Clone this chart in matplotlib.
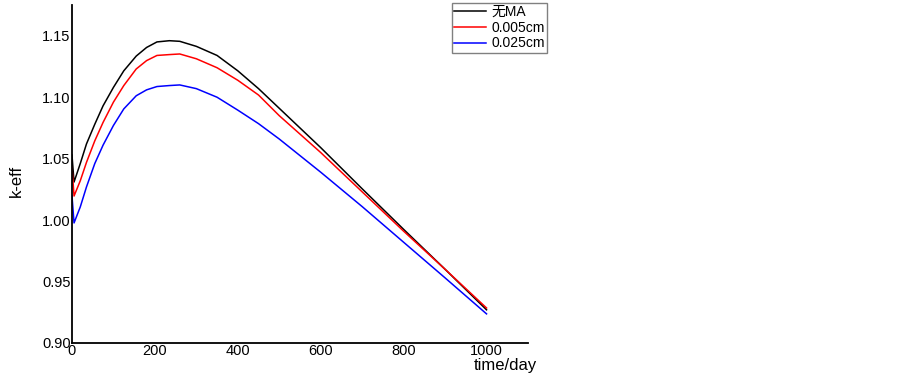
import matplotlib
matplotlib.use("Agg")
import matplotlib.pyplot as plt

plt.rcParams['font.family'] = ['Liberation Sans', 'Noto Sans CJK SC']

# burnup time (day)
days = [0, 5, 20, 35, 55, 75, 100, 125, 155, 180, 205, 235, 260, 300, 350, 400, 450, 500,
        600, 700, 800, 900, 1000]

# k-eff, no MA
k_noma = [1.053, 1.031, 1.046, 1.062, 1.078, 1.093, 1.108, 1.1215, 1.1335, 1.1405, 1.145,
          1.146, 1.1455, 1.1414, 1.134, 1.1215, 1.107, 1.091, 1.059, 1.0255, 0.9925, 0.960,
          0.927]
# k-eff, MA layer 0.005 cm
k_005 = [1.043, 1.0196, 1.032, 1.047, 1.0645, 1.0795, 1.096, 1.1095, 1.123, 1.1298, 1.134,
         1.1347, 1.1352, 1.1313, 1.124, 1.1138, 1.1018, 1.085, 1.055, 1.023, 0.991, 0.960,
         0.9285]
# k-eff, MA layer 0.025 cm
k_025 = [1.020, 0.9977, 1.0107, 1.027, 1.046, 1.061, 1.077, 1.0905, 1.1012, 1.106, 1.1087,
         1.1095, 1.110, 1.107, 1.100, 1.0895, 1.0785, 1.066, 1.039, 1.011, 0.982, 0.953,
         0.9237]

labels = ['无MA', '0.005cm', '0.025cm']
colors = ['black', 'red', 'blue']

fig = plt.figure(figsize=(9.03, 3.78), dpi=100)
ax = fig.add_axes([0.0797, 0.0926, 0.505, 0.894])

for ys, lab, c in zip([k_noma, k_005, k_025], labels, colors):
    ax.plot(days, ys, color=c, lw=1.1, label=lab)

ax.set_xlim(0, 1100)
ax.set_ylim(0.90, 1.175)
ax.set_xticks([0, 200, 400, 600, 800, 1000])
ax.set_yticks([0.90, 0.95, 1.00, 1.05, 1.10, 1.15])
ax.set_yticklabels(['0.90', '0.95', '1.00', '1.05', '1.10', '1.15'])
ax.tick_params(length=0, pad=1, labelsize=10.5)

for s in ['top', 'right']:
    ax.spines[s].set_visible(False)
for s in ['left', 'bottom']:
    ax.spines[s].set_linewidth(1.3)

ax.set_xlabel('time/day', fontsize=12, ha='right')
ax.xaxis.set_label_coords(1.02, -0.045)
ax.set_ylabel('k-eff', fontsize=12)
ax.yaxis.set_label_coords(-0.105, 0.48)

leg = fig.legend(loc='upper right', bbox_to_anchor=(0.6058, 0.992), fontsize=10,
                 fancybox=False, edgecolor='gray', framealpha=1, handlelength=2.3,
                 borderpad=0.15, labelspacing=0.12, handletextpad=0.4, borderaxespad=0)
leg.get_frame().set_linewidth(1.0)

fig.savefig('out.png', dpi=100)
